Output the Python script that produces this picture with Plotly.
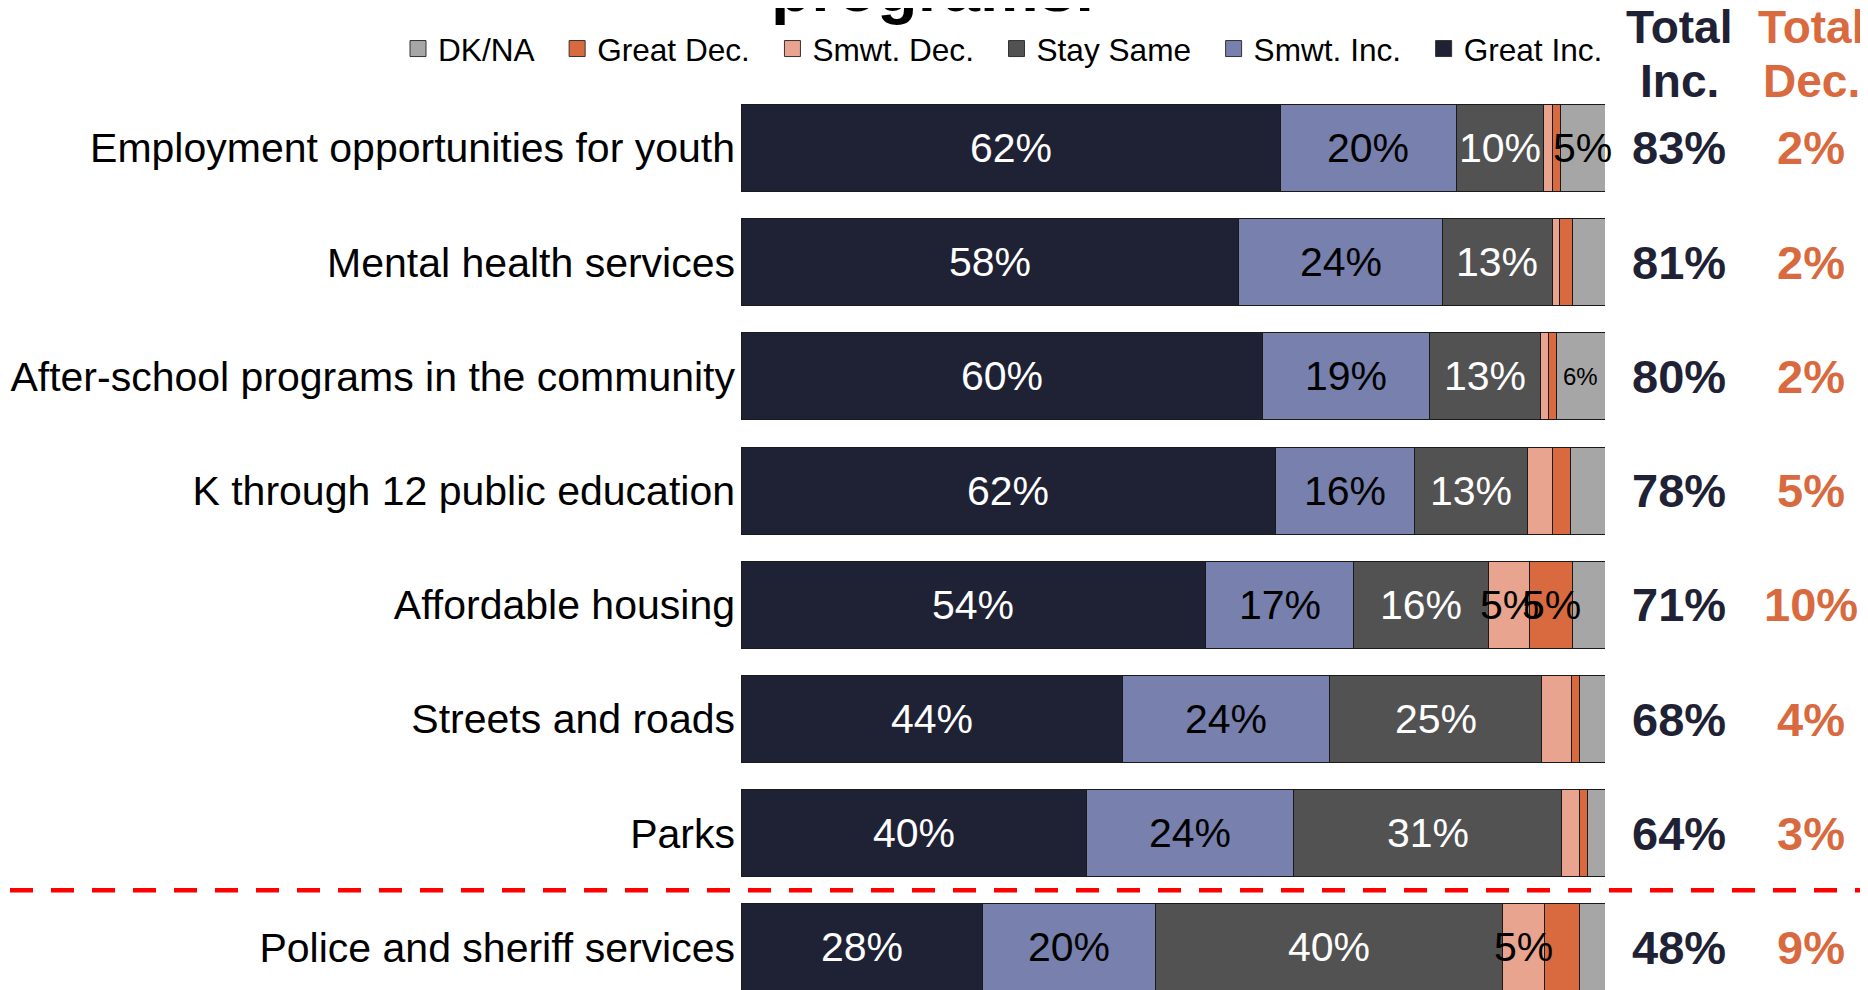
import plotly.graph_objects as go

categories = [
    "Employment opportunities for youth",
    "Mental health services",
    "After-school programs in the community",
    "K through 12 public education",
    "Affordable housing",
    "Streets and roads",
    "Parks",
    "Police and sheriff services",
]
great_inc = [62.4, 57.6, 60.4, 61.9, 53.8, 44.2, 40.0, 28.0]
smwt_inc = [20.4, 23.6, 19.3, 16.1, 17.1, 23.9, 24.0, 20.0]
stay_same = [10.1, 12.7, 12.8, 13.0, 15.6, 24.6, 31.0, 40.1]
smwt_dec = [1.0, 0.8, 1.0, 2.9, 4.8, 3.4, 2.0, 4.9]
great_dec = [1.0, 1.5, 0.9, 2.1, 4.9, 1.0, 1.0, 4.0]
dk_na = [5.1, 3.8, 5.6, 4.0, 3.8, 2.9, 2.0, 3.0]
total_inc = [83, 81, 80, 78, 71, 68, 64, 48]
total_dec = [2, 2, 2, 5, 10, 4, 3, 9]

FONT = "Liberation Sans"
NAVY = "#1f2235"
ORANGE = "#d96a40"
# the page body has an 8px margin, so the figure is 8px smaller than the window
W, H = 1860, 982
L, R, T, B = 733, 263, 87, 0
PW, PH = W - L - R, H - T - B
Y_RANGE = [7.373, -0.464]
DIVIDER_AT = 6.5

series = [
    ("Great Inc.", great_inc, NAVY, "white"),
    ("Smwt. Inc.", smwt_inc, "#7880ad", "black"),
    ("Stay Same", stay_same, "#525252", "white"),
    ("Smwt. Dec.", smwt_dec, "#e8a48e", "black"),
    ("Great Dec.", great_dec, ORANGE, "black"),
    ("DK/NA", dk_na, "#a6a6a6", "black"),
]


def px_x(px):
    return (px - L) / PW


def px_y(py):
    return 1 + (T - py) / PH


fig = go.Figure()
annotations = []
cum = [0.0] * len(categories)
for name, vals, color, tcolor in series:
    fig.add_trace(go.Bar(
        y=categories, x=vals, name=name, orientation="h", showlegend=False,
        marker=dict(color=color, line=dict(color="#1a1a1a", width=1)),
        hoverinfo="skip",
    ))
    for i, (cat, v) in enumerate(zip(categories, vals)):
        r = round(v)
        if r >= 5:
            size = 24 if (name == "DK/NA" and r == 6) else 41
            annotations.append(dict(
                x=cum[i] + v / 2, xref="x", y=cat, yref="y", text=f"{r}%",
                showarrow=False, xanchor="center", yanchor="middle",
                font=dict(family=FONT, size=size, color=tcolor)))
        cum[i] += v

# legend entries (square symbols)
for name, vals, color, tcolor in series:
    fig.add_trace(go.Scatter(
        x=[None], y=[None], mode="markers", name=name + "\u00a0\u00a0",
        marker=dict(symbol="square", size=16, color=color, line=dict(color="#333333", width=1)),
        hoverinfo="skip", showlegend=True,
    ))

col_inc_x = px_x(1671)
col_dec_x = px_x(1803)
for x, color, lines in [(col_inc_x, NAVY, ["Total", "Inc."]),
                        (col_dec_x, ORANGE, ["Total", "Dec."])]:
    for py, txt in zip([19, 73], lines):
        annotations.append(dict(
            x=x, xref="paper", y=px_y(py), yref="paper",
            text=f"<b>{txt}</b>", showarrow=False, xanchor="center", yanchor="middle",
            font=dict(family=FONT, size=46, color=color)))
for cat, ti, td in zip(categories, total_inc, total_dec):
    annotations.append(dict(x=col_inc_x, xref="paper", y=cat, yref="y", text=f"<b>{ti}%</b>",
                            showarrow=False, xanchor="center", yanchor="middle",
                            font=dict(family=FONT, size=47, color=NAVY)))
    annotations.append(dict(x=col_dec_x, xref="paper", y=cat, yref="y", text=f"<b>{td}%</b>",
                            showarrow=False, xanchor="center", yanchor="middle",
                            font=dict(family=FONT, size=47, color=ORANGE)))

# title (mostly above the top of the page)
annotations.append(dict(x=px_x(924), xref="paper", y=px_y(19), yref="paper",
                        text="<b>programs.</b>", showarrow=False, xanchor="center", yanchor="bottom",
                        font=dict(family=FONT, size=66, color="black")))

div_y = (Y_RANGE[0] - DIVIDER_AT) / (Y_RANGE[0] - Y_RANGE[1])
shapes = [dict(type="line", xref="paper", yref="paper",
               x0=px_x(2), x1=px_x(W), y0=div_y, y1=div_y,
               line=dict(color="#ff0000", width=4.5, dash="23px,18px"))]

fig.update_layout(
    width=W, height=H,
    margin=dict(l=L, r=R, t=T, b=B, pad=0),
    barmode="stack", bargap=0.238,
    plot_bgcolor="white", paper_bgcolor="white",
    showlegend=True,
    legend=dict(orientation="h", traceorder="reversed", x=px_x(390), xanchor="left",
                y=px_y(41), yanchor="middle",
                font=dict(family=FONT, size=31.6, color="black"), bgcolor="rgba(0,0,0,0)"),
    xaxis=dict(range=[0, 100], visible=False, fixedrange=True),
    yaxis=dict(type="category", categoryorder="array", categoryarray=categories,
               range=Y_RANGE, showgrid=False, zeroline=False, showline=False,
               ticks="", ticklabelstandoff=5,
               tickfont=dict(family=FONT, size=41, color="black"), fixedrange=True),
    annotations=annotations, shapes=shapes,
    font=dict(family=FONT),
)

fig.write_html("out.html")
